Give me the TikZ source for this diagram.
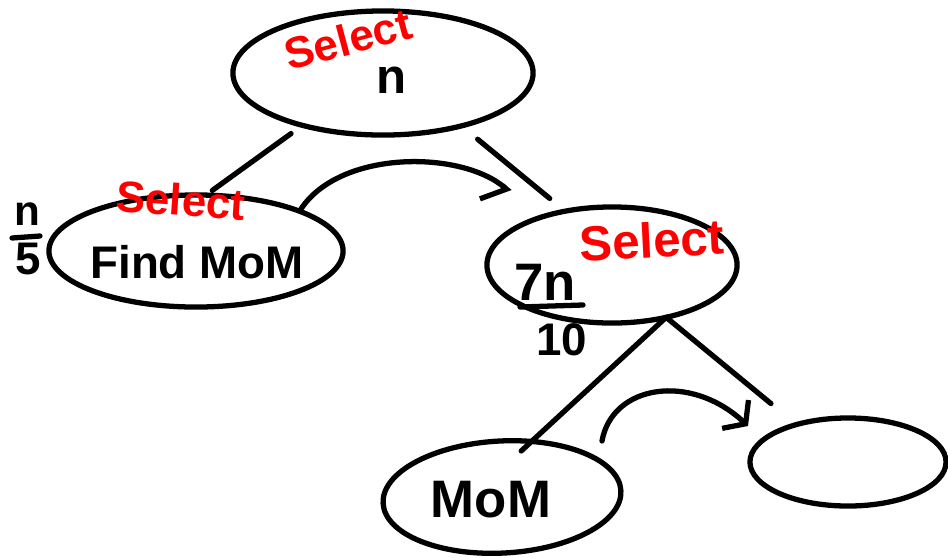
\documentclass[tikz,border=0pt]{standalone}
\usepackage{fontspec}
\setmainfont{Liberation Sans}
\usetikzlibrary{shapes.geometric,arrows.meta}
\begin{document}
\begin{tikzpicture}[x=0.01cm,y=-0.01cm,
  ink/.style={line width=1.5pt, line cap=round, line join=round},
  blob/.style={ink, draw, ellipse, inner sep=0pt, outer sep=0pt},
  link/.style={ink},
  flowh/.style={ink, -{Straight Barb[harpoon,swap,length=4pt,width=14pt,line width=1.5pt]}},
  flowb/.style={ink, -{Straight Barb[length=4pt,width=11pt,line width=1.5pt]}},
  redtxt/.style={text=red, font=\bfseries\fontsize{12.5}{12.5}\selectfont, inner sep=0pt},
  blktxt/.style={text=black, font=\bfseries\fontsize{14}{14}\selectfont, inner sep=0pt},
]
\useasboundingbox (0,0) rectangle (948,557);

% ellipses
\node[blob, minimum width=3.00cm, minimum height=1.24cm] (top) at (383,73) {};
\node[blob, minimum width=2.94cm, minimum height=1.12cm] (left) at (196,251) {};
\node[blob, minimum width=2.50cm, minimum height=1.16cm] (mid) at (612,265) {};
\node[blob, minimum width=2.38cm, minimum height=1.12cm, rotate=3] (bl) at (502,497) {};
\node[blob, minimum width=1.96cm, minimum height=0.88cm] (br) at (848,462) {};

% texts
\node[redtxt, rotate=15] (s1) at (348,39) {Select};
\node[blktxt] (n1) at (392,80) {n};
\node[redtxt, rotate=-4] (s2) at (181,200) {Select};
\node[blktxt, font=\bfseries\fontsize{13}{13}\selectfont] (t2) at (197,262) {Find MoM};
\node[blktxt, font=\bfseries\fontsize{12}{12}\selectfont] (fn) at (27,214) {n};
\node[blktxt, font=\bfseries\fontsize{13}{13}\selectfont] (f5) at (28,259) {5};
\node[redtxt, font=\bfseries\fontsize{14}{14}\selectfont, rotate=3] (s3) at (652,240) {Select};
\node[blktxt, font=\bfseries\fontsize{15}{15}\selectfont] (f7n) at (545,282) {7n};
\node[blktxt, font=\bfseries\fontsize{13}{13}\selectfont] (f10) at (562,340) {10};
\node[blktxt, font=\bfseries\fontsize{15}{15}\selectfont] (t4) at (491,500) {MoM};

% fraction bars
\draw[ink] (12,238) coordinate (b1s) -- (40,236) coordinate (b1e);
\draw[ink] (520,307) coordinate (b2s) -- (583,305) coordinate (b2e);

% connectors
\draw[link, shorten <=0.14cm, shorten >=0.08cm] (top.213) -- (left.80);
\draw[link, shorten <=0.21cm, shorten >=0.20cm] (top.326) -- (mid.131);
\draw[link, shorten >=-0.14cm] (mid.316) -- (bl.59);
\draw[link, shorten >=0.33cm] (mid.316) -- (br.144);

% curved arrows
\coordinate (a1s) at (301,209);
\coordinate (a1e) at (510,192);
\draw[flowh] (a1s) .. controls (340,150) and (460,150) .. (a1e);
\coordinate (a2s) at (602,441);
\coordinate (a2e) at (748,426);
\draw[flowb] (a2s) .. controls (612,385) and (690,372) .. (a2e);
\end{tikzpicture}
\end{document}
